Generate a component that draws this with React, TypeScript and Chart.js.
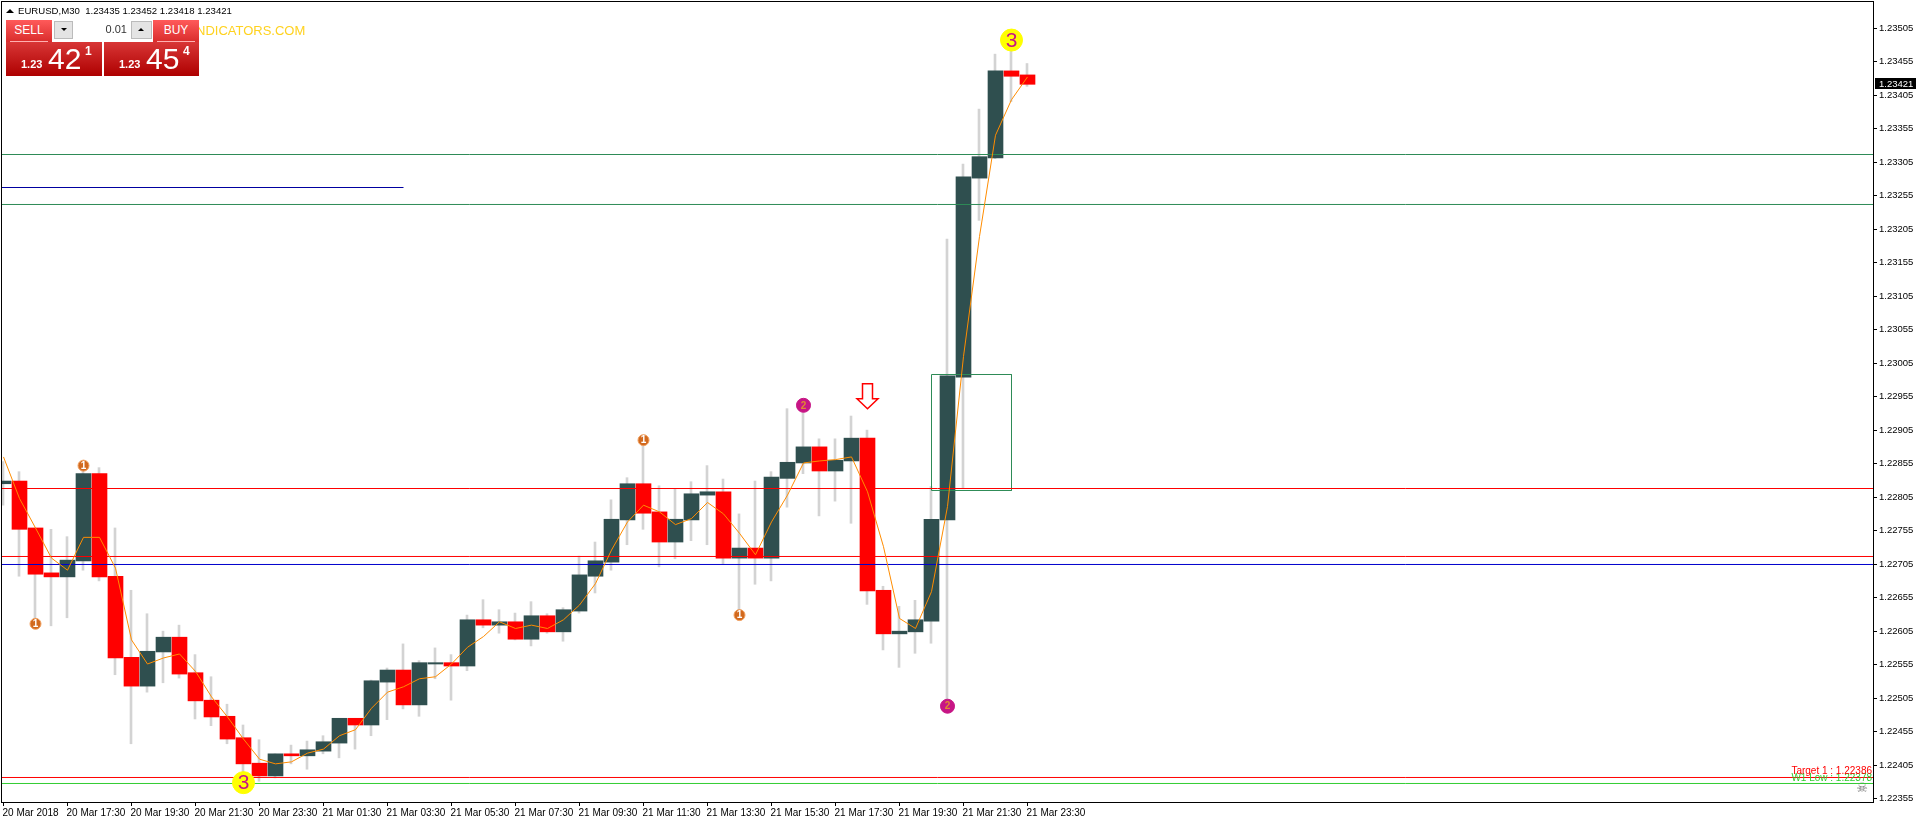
import React, { useEffect, useRef } from "react";
import { Chart, registerables } from "chart.js";

Chart.register(...registerables);

const FONT = '"Liberation Sans"';

const opens = [1.22825,1.22829,1.22759,1.22692,1.22686,1.2271,1.2284,1.22687,1.22566,1.22523,1.22574,1.22596,1.22543,1.22502,1.22478,1.22446,1.22408,1.22389,1.22422,1.22419,1.22426,1.22438,1.22475,1.22465,1.22529,1.22547,1.22495,1.22556,1.22558,1.22553,1.22622,1.22614,1.22619,1.22593,1.22628,1.22604,1.22635,1.22687,1.22708,1.22771,1.22825,1.22783,1.22738,1.22771,1.22808,1.22813,1.22714,1.22729,1.22714,1.22833,1.22856,1.2288,1.22844,1.22859,1.22893,1.22666,1.22601,1.22604,1.2262,1.22771,1.22984,1.23281,1.23311,1.23441,1.23435];
const closes = [1.22829,1.22757,1.2269,1.22686,1.22711,1.2284,1.22686,1.22565,1.22523,1.22575,1.22596,1.22541,1.22501,1.22477,1.22444,1.22407,1.22389,1.22422,1.22419,1.22428,1.2244,1.22475,1.22465,1.22531,1.22547,1.22495,1.22558,1.22558,1.22553,1.22622,1.22614,1.22619,1.22593,1.22628,1.22604,1.22637,1.22689,1.2271,1.22772,1.22825,1.22781,1.22738,1.22772,1.2281,1.22813,1.22714,1.22729,1.22714,1.22835,1.22857,1.2288,1.22844,1.2286,1.22893,1.22665,1.22601,1.22605,1.22622,1.22772,1.22986,1.23283,1.23313,1.23441,1.23433,1.23421];
const highs = [1.22858,1.22843,1.22759,1.22757,1.22746,1.22846,1.22849,1.22759,1.22666,1.22631,1.22605,1.22614,1.2257,1.22537,1.22496,1.22465,1.22443,1.22422,1.22435,1.22441,1.22449,1.22475,1.22475,1.22532,1.2255,1.22586,1.22561,1.2258,1.2257,1.22629,1.22652,1.22637,1.22632,1.22649,1.22631,1.2264,1.22717,1.22738,1.22801,1.22834,1.22883,1.22822,1.22817,1.22828,1.22852,1.22832,1.2278,1.22829,1.22843,1.22937,1.22931,1.22892,1.22892,1.22926,1.22905,1.22672,1.22642,1.22651,1.22821,1.2319,1.23302,1.23384,1.23466,1.23472,1.23452];
const lows = [1.22793,1.22687,1.22622,1.22613,1.22625,1.22696,1.2268,1.2254,1.22437,1.22514,1.22528,1.22535,1.22474,1.22464,1.22437,1.22393,1.22381,1.22386,1.22407,1.22399,1.22422,1.22416,1.22429,1.22449,1.22473,1.22489,1.22478,1.22534,1.22502,1.22546,1.2261,1.22602,1.22592,1.22583,1.22602,1.2259,1.22632,1.22662,1.22696,1.22734,1.22757,1.22701,1.22713,1.2274,1.22734,1.22705,1.22637,1.22675,1.2268,1.2279,1.2284,1.22777,1.22799,1.22766,1.22645,1.22577,1.22551,1.22572,1.22587,1.22502,1.22819,1.23218,1.2331,1.23395,1.23418];
const movingAverage = [1.22865,1.22803,1.22759,1.22714,1.22696,1.22745,1.22745,1.22699,1.22592,1.22556,1.22565,1.22571,1.22545,1.22507,1.22477,1.22444,1.22414,1.22407,1.2241,1.22423,1.22429,1.22449,1.22458,1.2249,1.22514,1.22522,1.22534,1.22537,1.22556,1.22581,1.22597,1.22619,1.22609,1.22614,1.22609,1.22622,1.22644,1.22676,1.22726,1.22768,1.22793,1.22783,1.22764,1.22773,1.22797,1.2278,1.22751,1.22719,1.22768,1.22808,1.22856,1.22859,1.22861,1.22865,1.22813,1.22731,1.22624,1.22609,1.22664,1.22791,1.23015,1.23194,1.23345,1.23398,1.23432];

const xTickLabels = ["20 Mar 2018","20 Mar 17:30","20 Mar 19:30","20 Mar 21:30","20 Mar 23:30","21 Mar 01:30","21 Mar 03:30","21 Mar 05:30","21 Mar 07:30","21 Mar 09:30","21 Mar 11:30","21 Mar 13:30","21 Mar 15:30","21 Mar 17:30","21 Mar 19:30","21 Mar 21:30","21 Mar 23:30"];
const xTickIndices = [0,4,8,12,16,20,24,28,32,36,40,44,48,52,56,60,64];
const yTicks = [1.22355,1.22405,1.22455,1.22505,1.22555,1.22605,1.22655,1.22705,1.22755,1.22805,1.22855,1.22905,1.22955,1.23005,1.23055,1.23105,1.23155,1.23205,1.23255,1.23305,1.23355,1.23405,1.23455,1.23505];

const greenLevels = [1.2331625, 1.2324165];
const redLevels = [1.2281788, 1.2271642];
const blueLevel = 1.2270448;
const shortBlueLevel = 1.2326701;
const shortBlueEnd = 25;
const targetLevel = 1.2238666;
const lowLevel = 1.2237771;
const boxTop = 1.2298798;
const boxBottom = 1.228149;
const boxStart = 58;
const boxEnd = 63;

const orangeMarkers = [{ x: 2, y: 1.22616 }, { x: 5, y: 1.22852 }, { x: 40, y: 1.2289 }, { x: 46, y: 1.22629 }];
const magentaMarkers = [{ x: 50, y: 1.22942 }, { x: 59, y: 1.22493 }];
const yellowMarkers = [{ x: 15, y: 1.22379 }, { x: 63, y: 1.23487 }];
const arrowPoint = { x: 54, y: 1.22937 };
const lastPrice = 1.23421;

const BAR_STEP = 16;
const X_MIN = -0.09375;
const X_MAX = 116.84375;
const Y_MIN = 1.223501;
const Y_MAX = 1.235438;

const hline = (y: number, color: string, x0 = X_MIN, x1 = X_MAX) => ({
  type: "line",
  data: [{ x: x0, y }, { x: x1, y }],
  borderColor: color,
  borderWidth: 1,
  pointRadius: 0,
  order: 1,
});

const markerSet = (data: any[], fill: string, radius: number, border: string) => ({
  type: "line",
  data,
  showLine: false,
  pointRadius: radius,
  pointHoverRadius: radius,
  pointBackgroundColor: fill,
  pointBorderColor: border,
  pointBorderWidth: 1,
  order: -1,
});

const zeroPadding = (s: any) => {
  s.paddingLeft = 0;
  s.paddingRight = 0;
  s.paddingTop = 0;
  s.paddingBottom = 0;
};

const overlayPlugin = {
  id: "overlay",
  afterDraw(chart: any) {
    const { ctx, chartArea: a, scales } = chart;
    const xs = scales.x;
    const ys = scales.y;
    ctx.save();
    ctx.strokeStyle = "#000";
    ctx.lineWidth = 1;
    ctx.strokeRect(a.left - 0.5, a.top - 0.5, a.right - a.left + 1, a.bottom - a.top + 1);

    ctx.textAlign = "center";
    ctx.textBaseline = "middle";
    ctx.font = `bold 10px ${FONT}`;
    ctx.fillStyle = "#ffffff";
    orangeMarkers.forEach((m) => ctx.fillText("1", xs.getPixelForValue(m.x), ys.getPixelForValue(m.y) + 0.5));
    ctx.fillStyle = "#e08a30";
    magentaMarkers.forEach((m) => ctx.fillText("2", xs.getPixelForValue(m.x), ys.getPixelForValue(m.y) + 0.5));
    ctx.font = `21px ${FONT}`;
    ctx.fillStyle = "#c71585";
    yellowMarkers.forEach((m) => ctx.fillText("3", xs.getPixelForValue(m.x), ys.getPixelForValue(m.y) + 1));

    const ax = Math.round(xs.getPixelForValue(arrowPoint.x)) - 0.5;
    const ay = ys.getPixelForValue(arrowPoint.y);
    ctx.beginPath();
    ctx.moveTo(ax, ay);
    ctx.lineTo(ax + 10.5, ay - 10);
    ctx.lineTo(ax + 5, ay - 10);
    ctx.lineTo(ax + 5, ay - 25);
    ctx.lineTo(ax - 5, ay - 25);
    ctx.lineTo(ax - 5, ay - 10);
    ctx.lineTo(ax - 10.5, ay - 10);
    ctx.closePath();
    ctx.fillStyle = "#fff";
    ctx.fill();
    ctx.strokeStyle = "#ff0000";
    ctx.lineWidth = 1.5;
    ctx.stroke();

    ctx.textAlign = "right";
    ctx.textBaseline = "middle";
    ctx.font = `10px ${FONT}`;
    ctx.fillStyle = "#32cd32";
    ctx.fillText("W1 Low : 1.22378", a.right - 1, ys.getPixelForValue(lowLevel) - 5);
    ctx.fillStyle = "#ff0000";
    ctx.fillText("Target 1 : 1.22386", a.right - 1, ys.getPixelForValue(targetLevel) - 6);
    ctx.textAlign = "center";
    ctx.font = `13px "DejaVu Sans"`;
    ctx.fillStyle = "#777";
    ctx.fillText("\u2620", a.right - 11, ys.getPixelForValue(lowLevel) + 5);

    const py = ys.getPixelForValue(lastPrice);
    ctx.fillStyle = "#000";
    ctx.fillRect(a.right + 2, Math.round(py) - 6, 41, 11);
    ctx.fillStyle = "#fff";
    ctx.textAlign = "left";
    ctx.font = `9.5px ${FONT}`;
    ctx.fillText(lastPrice.toFixed(5), a.right + 6, Math.round(py));
    ctx.restore();
  },
};

const abs = (s: React.CSSProperties): React.CSSProperties => ({ position: "absolute", ...s });
const upper = "linear-gradient(#ff5a5a,#d92c2c)";
const lower = "linear-gradient(#d83636,#ae0000)";

function PriceBox({ left, width, big, small }: { left: number; width: number; big: string; small: string }) {
  return (
    <div style={abs({ left, top: 42, width, height: 34, background: lower, color: "#fff" })}>
      <span style={abs({ left: 15, top: 16, font: `bold 11px ${FONT}` })}>1.23</span>
      <span style={abs({ left: 42, top: -1, font: `30px ${FONT}`, lineHeight: "36px" })}>{big}</span>
      <span style={abs({ left: 79, top: 2, font: `bold 12px ${FONT}` })}>{small}</span>
    </div>
  );
}

function Panel() {
  return (
    <div style={abs({ left: 0, top: 0, width: 320, height: 80, fontFamily: FONT, pointerEvents: "none" })}>
      <div style={abs({ left: 6, top: 9, width: 0, height: 0, borderLeft: "4px solid transparent", borderRight: "4px solid transparent", borderBottom: "4px solid #000" })} />
      <div style={abs({ left: 18, top: 4, font: `9.6px ${FONT}`, lineHeight: "13px", whiteSpace: "pre", color: "#000" })}>EURUSD,M30  1.23435 1.23452 1.23418 1.23421</div>
      <div style={abs({ left: 196, top: 22, font: `13px ${FONT}`, lineHeight: "18px", color: "#ffd21f" })}>NDICATORS.COM</div>

      <div style={abs({ left: 6, top: 20, width: 46, height: 22, background: upper, color: "#fff", textAlign: "center", font: `12px ${FONT}`, lineHeight: "21px" })}>SELL</div>
      <div style={abs({ left: 10, top: 41, width: 38, height: 1, background: "#ffb0b0" })} />
      <div style={abs({ left: 153, top: 20, width: 46, height: 22, background: upper, color: "#fff", textAlign: "center", font: `12px ${FONT}`, lineHeight: "21px" })}>BUY</div>
      <div style={abs({ left: 157, top: 41, width: 38, height: 1, background: "#ffb0b0" })} />

      <div style={abs({ left: 54, top: 21, width: 19, height: 18, background: "#e4e4e4", border: "1px solid #bbb", boxSizing: "border-box" })} />
      <div style={abs({ left: 61, top: 28, width: 0, height: 0, borderLeft: "3px solid transparent", borderRight: "3px solid transparent", borderTop: "3px solid #000" })} />
      <div style={abs({ left: 73, top: 21, width: 58, height: 18, textAlign: "right", paddingRight: 4, boxSizing: "border-box", font: `11px ${FONT}`, lineHeight: "17px", color: "#333" })}>0.01</div>
      <div style={abs({ left: 131, top: 21, width: 21, height: 18, background: "#e4e4e4", border: "1px solid #bbb", boxSizing: "border-box" })} />
      <div style={abs({ left: 138, top: 28, width: 0, height: 0, borderLeft: "3px solid transparent", borderRight: "3px solid transparent", borderBottom: "3px solid #000" })} />

      <PriceBox left={6} width={96} big="42" small="1" />
      <PriceBox left={104} width={95} big="45" small="4" />
    </div>
  );
}

export default function App() {
  const ref = useRef<HTMLCanvasElement>(null);
  useEffect(() => {
    document.body.style.margin = "0";
    document.body.style.overflow = "hidden";
    const wicks = highs.map((h, i) => ({ x: i - 0.5 / BAR_STEP, y: [lows[i], h] }));
    const bodies = opens.map((o, i) => ({ x: i, y: [o, closes[i]] }));
    const bodyColors = opens.map((o, i) => (closes[i] < o ? "#ff0000" : "#2f4f4f"));
    const chart = new Chart(ref.current as HTMLCanvasElement, {
      type: "bar",
      data: {
        datasets: [
          { type: "bar", data: wicks, backgroundColor: "#d3d3d3", barThickness: 2, grouped: false, order: 3 },
          { type: "bar", data: bodies, backgroundColor: bodyColors, barThickness: 15, grouped: false, order: 2 },
          hline(greenLevels[0], "#2e8b57"),
          hline(greenLevels[1], "#2e8b57"),
          hline(shortBlueLevel, "#0000a0", X_MIN, shortBlueEnd),
          hline(redLevels[0], "#ff0000"),
          hline(redLevels[1], "#ff0000"),
          hline(blueLevel, "#0000cd"),
          hline(targetLevel, "#ff0000"),
          hline(lowLevel, "#32cd32"),
          {
            type: "line",
            data: [
              { x: boxStart, y: boxTop },
              { x: boxEnd, y: boxTop },
              { x: boxEnd, y: boxBottom },
              { x: boxStart, y: boxBottom },
              { x: boxStart, y: boxTop },
            ],
            borderColor: "#2e8b57",
            borderWidth: 1,
            pointRadius: 0,
            order: 1,
          },
          {
            type: "line",
            data: movingAverage.map((y, x) => ({ x, y })),
            borderColor: "#ff8c00",
            borderWidth: 1,
            pointRadius: 0,
            tension: 0,
            order: 0,
          },
          markerSet(orangeMarkers, "#d2691e", 5.5, "#f0a060"),
          markerSet(magentaMarkers, "#c71585", 7, "#c71585"),
          markerSet(yellowMarkers, "#ffff00", 11, "#ffff00"),
        ] as any,
      },
      plugins: [overlayPlugin],
      options: {
        animation: false,
        responsive: false,
        layout: { autoPadding: false, padding: { left: 2, top: 2, right: 0, bottom: 0 } },
        plugins: { legend: { display: false }, tooltip: { enabled: false } },
        scales: {
          x: {
            type: "linear",
            offset: false,
            min: X_MIN,
            max: X_MAX,
            afterFit: (s: any) => { s.height = 21; zeroPadding(s); },
            afterBuildTicks: (s: any) => { s.ticks = xTickIndices.map((value) => ({ value })); },
            grid: { offset: false, drawOnChartArea: false, color: "#000", tickLength: 4 },
            border: { color: "#000" },
            ticks: {
              autoSkip: false,
              maxRotation: 0,
              align: "start",
              padding: 1,
              labelOffset: -1,
              color: "#000",
              font: { family: "Liberation Sans", size: 10 },
              callback: (v: any) => xTickLabels[xTickIndices.indexOf(v)],
            },
          },
          y: {
            type: "linear",
            position: "right",
            min: Y_MIN,
            max: Y_MAX,
            afterFit: (s: any) => { s.width = 43; zeroPadding(s); },
            afterBuildTicks: (s: any) => { s.ticks = yTicks.map((value) => ({ value })); },
            grid: { drawOnChartArea: false, color: "#000", tickLength: 4 },
            border: { color: "#000" },
            ticks: {
              autoSkip: false,
              padding: 2,
              color: "#000",
              font: { family: "Liberation Sans", size: 9.5 },
              callback: (v: any) => Number(v).toFixed(5),
            },
          },
        },
      } as any,
    });
    return () => chart.destroy();
  }, []);
  return (
    <div style={{ position: "relative", width: 1916, height: 823, background: "#fff" }}>
      <canvas ref={ref} width={1916} height={823} style={{ display: "block" }} />
      <Panel />
    </div>
  );
}
